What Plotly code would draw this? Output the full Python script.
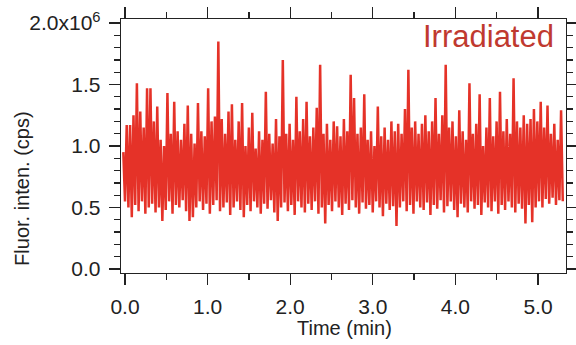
import numpy as np
import plotly.graph_objects as go

# Local maxima of the trace (x1e6 cps), left to right
highs = [0.95, 1.17, 1.17, 1.25, 1.51, 1.28, 1.15, 1.47, 1.47, 1.20,
         1.32, 1.05, 1.00, 1.43, 1.10, 1.36, 1.12, 1.05, 1.18, 1.33,
         1.10, 1.02, 1.35, 1.12, 1.08, 1.47, 1.20, 1.24, 1.85, 1.22,
         1.10, 1.28, 1.34, 1.05, 1.20, 1.35, 1.00, 1.15, 1.27, 0.98,
         1.12, 1.05, 1.44, 1.10, 1.02, 1.22, 1.08, 1.70, 1.10, 1.18,
         1.05, 1.40, 1.12, 1.22, 1.36, 1.08, 1.15, 1.31, 1.66, 1.10,
         1.18, 1.05, 1.20, 1.16, 1.08, 1.22, 1.12, 1.58, 1.39, 1.10,
         1.15, 1.42, 1.05, 1.12, 1.00, 1.32, 1.08, 1.15, 1.05, 1.20,
         1.12, 1.18, 1.10, 1.30, 1.62, 1.15, 1.20, 1.10, 1.18, 1.25,
         1.12, 1.20, 1.39, 1.10, 1.25, 1.66, 1.15, 1.20, 1.08, 1.29,
         1.12, 1.05, 1.51, 1.10, 1.18, 1.42, 1.00, 1.15, 1.39, 1.08,
         1.20, 1.44, 1.12, 1.22, 1.10, 1.55, 1.20, 1.15, 1.25, 1.18,
         1.22, 1.30, 1.20, 1.36, 1.15, 1.33, 1.10, 1.18, 1.05, 1.29]

# Local minima of the trace (x1e6 cps), left to right
lows = [0.55, 0.50, 0.42, 0.52, 0.47, 0.55, 0.45, 0.50, 0.53, 0.46,
        0.50, 0.39, 0.48, 0.55, 0.45, 0.52, 0.50, 0.56, 0.47, 0.39,
        0.42, 0.50, 0.55, 0.48, 0.53, 0.45, 0.52, 0.56, 0.47, 0.50,
        0.54, 0.44, 0.50, 0.55, 0.48, 0.42, 0.52, 0.47, 0.55, 0.50,
        0.45, 0.53, 0.49, 0.56, 0.46, 0.39, 0.50, 0.54, 0.47, 0.52,
        0.44, 0.55, 0.50, 0.46, 0.53, 0.48, 0.55, 0.45, 0.50, 0.37,
        0.52, 0.47, 0.55, 0.50, 0.44, 0.53, 0.48, 0.56, 0.50, 0.45,
        0.54, 0.49, 0.52, 0.46, 0.55, 0.50, 0.43, 0.53, 0.48, 0.51,
        0.35, 0.50, 0.55, 0.47, 0.52, 0.45, 0.55, 0.50, 0.48, 0.54,
        0.44, 0.52, 0.49, 0.56, 0.46, 0.51, 0.55, 0.48, 0.42, 0.53,
        0.50, 0.46, 0.55, 0.49, 0.52, 0.44, 0.54, 0.50, 0.47, 0.55,
        0.45, 0.52, 0.48, 0.55, 0.50, 0.46, 0.53, 0.49, 0.37, 0.52,
        0.38, 0.50, 0.55, 0.50, 0.57, 0.53, 0.58, 0.52, 0.56, 0.55]

t_start, t_end = -0.02, 5.30  # time span of the trace (min)

x_ticks = [0, 1, 2, 3, 4, 5]
x_ticklabels = ["0.0", "1.0", "2.0", "3.0", "4.0", "5.0"]
y_ticks = [0.0, 0.5, 1.0, 1.5, 2.0]
y_ticklabels = ["0.0", "0.5", "1.0", "1.5", "2.0x10<sup>6</sup>"]

signal = [v for pair in zip(highs, lows) for v in pair]
time = np.linspace(t_start, t_end, len(signal))

FONT = "Liberation Sans, Arial, sans-serif"
TRACE = "#e53228"

fig = go.Figure()
fig.add_trace(go.Scatter(x=time, y=signal, mode="lines",
                         line=dict(color=TRACE, width=2.5, simplify=False),
                         showlegend=False, hoverinfo="skip"))

axis_common = dict(showline=True, linecolor="#222", linewidth=1.3,
                   mirror="allticks", ticks="outside", tickcolor="#222",
                   tickwidth=1.3, showgrid=False, zeroline=False,
                   automargin=False,
                   tickfont=dict(family=FONT, size=21, color="#222"))

fig.update_xaxes(range=[-0.048, 5.339], tickvals=x_ticks, ticktext=x_ticklabels,
                 ticklen=11, ticklabelstandoff=3,
                 minor=dict(dtick=0.5, tick0=0, ticklen=6, tickcolor="#222",
                            tickwidth=1.3, ticks="outside"),
                 **axis_common)
fig.update_yaxes(range=[-0.0325, 2.0325], tickvals=y_ticks, ticktext=y_ticklabels,
                 ticklen=11, ticklabelstandoff=4,
                 minor=dict(dtick=0.1, tick0=0, ticklen=6, tickcolor="#222",
                            tickwidth=1.3, ticks="outside"),
                 **axis_common)

fig.add_annotation(text="Irradiated", xref="paper", yref="paper",
                   x=0.978, y=0.93, xanchor="right", yanchor="middle",
                   showarrow=False,
                   font=dict(family=FONT, size=31, color="#c0392f"))
fig.add_annotation(text="Time (min)", xref="paper", yref="paper",
                   x=0.503, y=-0.2165, xanchor="center", yanchor="middle",
                   showarrow=False, font=dict(family=FONT, size=20, color="#222"))
fig.add_annotation(text="Fluor. inten. (cps)", xref="paper", yref="paper",
                   x=-0.2225, y=0.335, xanchor="center", yanchor="middle",
                   textangle=-90, showarrow=False,
                   font=dict(family=FONT, size=20, color="#222"))
fig.add_annotation(text="(c)", xref="paper", yref="paper",
                   x=-0.215, y=-0.268, xanchor="center", yanchor="top",
                   showarrow=False, font=dict(family=FONT, size=20, color="#222"))

fig.update_layout(width=576, height=345,
                  margin=dict(l=121, r=10, t=19, b=72),
                  paper_bgcolor="white", plot_bgcolor="white")

fig.write_html("out.html",
               config={"displayModeBar": False, "staticPlot": True},
               post_script="document.body.style.margin='0';"
                           "document.body.style.overflow='hidden';")
